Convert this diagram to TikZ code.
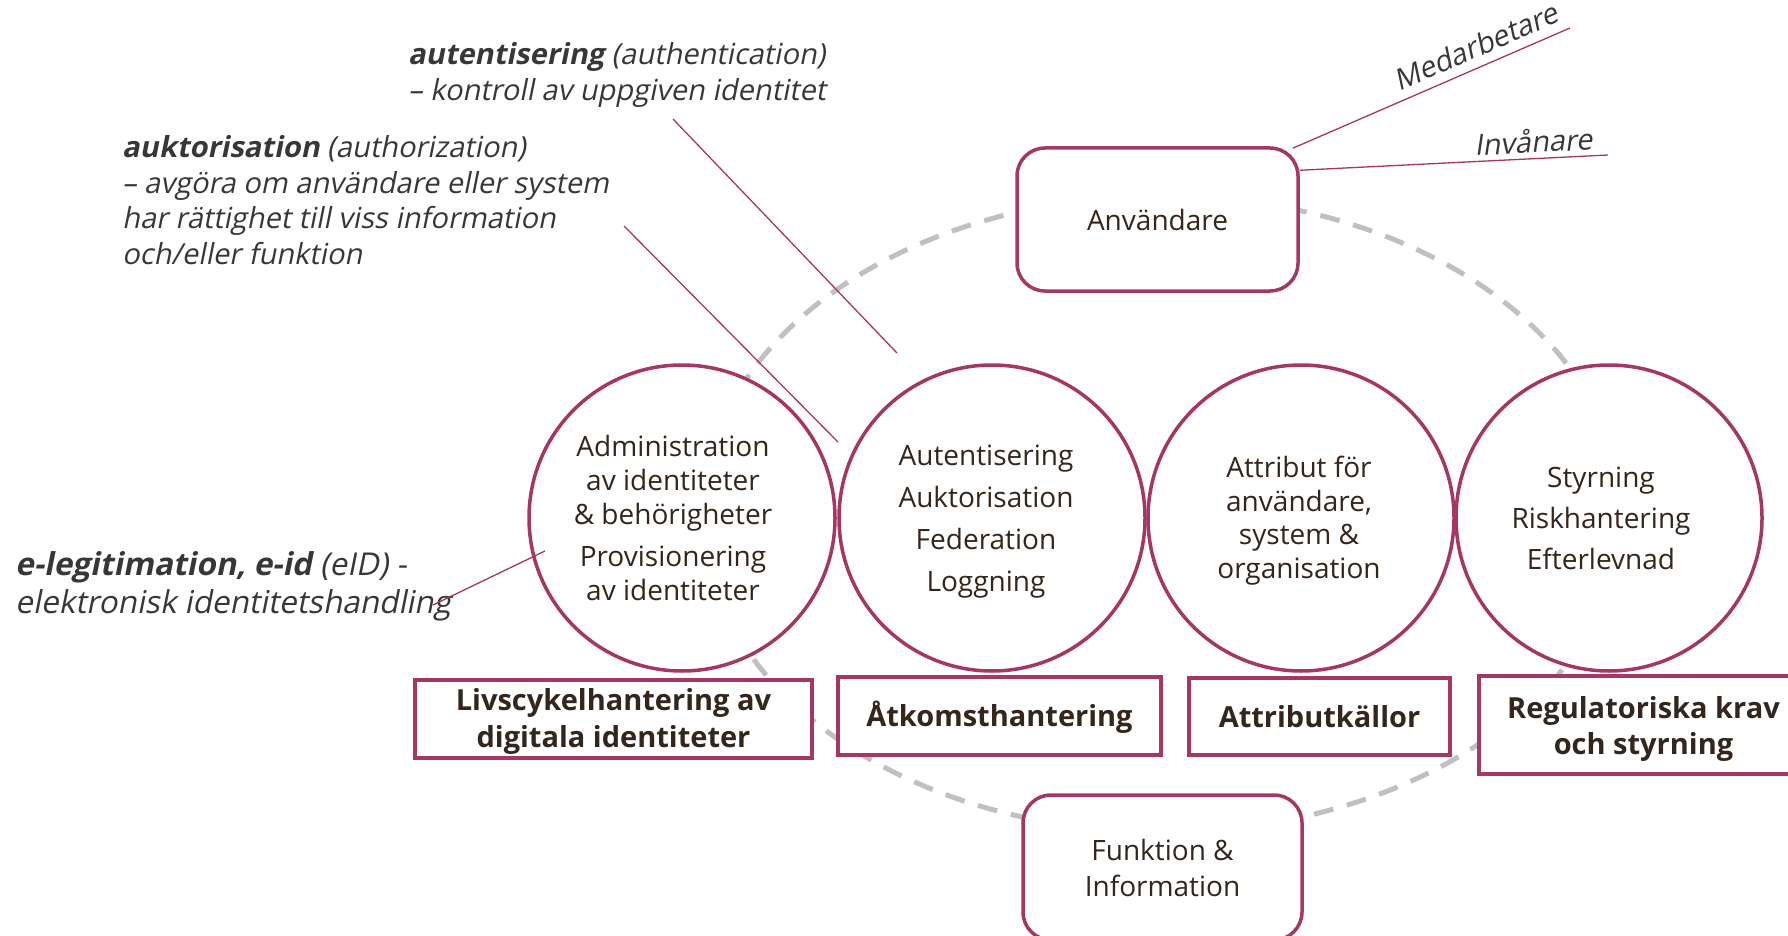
\documentclass[tikz,border=0pt]{standalone}
\usepackage{fontspec}
\setmainfont{Open Sans}
\newfontfamily\notefont{Open Sans}[FakeSlant=0.2]
\definecolor{plum}{RGB}{165,55,100}
\definecolor{ink}{RGB}{52,38,28}
\definecolor{note}{RGB}{55,55,55}
\definecolor{ring}{RGB}{192,192,192}

\begin{document}
\begin{tikzpicture}[x=1pt,y=-1pt,
  areacirc/.style={circle, draw=plum, line width=3.5pt, fill=white, minimum size=306pt, inner sep=0pt},
  areatext/.style={text=ink, align=center, inner sep=0pt},
  domainbox/.style={rectangle, draw=plum, line width=3.5pt, fill=white, inner sep=0pt},
  domaintext/.style={text=ink, align=center, inner sep=0pt, font=\fontsize{29}{37}\selectfont\bfseries},
  actorbox/.style={rectangle, rounded corners=28pt, draw=plum, line width=3.5pt, fill=white, text=ink, align=center, inner sep=0pt, font=\fontsize{28}{36}\selectfont},
  termtext/.style={text=note, align=left, anchor=west, inner sep=0pt},
  pointer/.style={draw=plum, line width=1.3pt},
  loopline/.style={draw=ring, line width=5pt, dash pattern=on 20pt off 14pt},
  usertag/.style={text=note, font=\notefont\fontsize{29}{34}\selectfont, sloped, above}
]
\useasboundingbox (0,0) rectangle (1788,936);
\clip (0,0) rectangle (1788,936);

% dashed loop behind everything
\draw[loopline] (1162,514) ellipse [x radius=459, y radius=318];

% the four capability circles
\node[areacirc] (lc) at (682,518) {};
\node[areacirc] (ac) at (992,518) {};
\node[areacirc] (at) at (1301,518) {};
\node[areacirc] (rg) at (1609,518) {};

\node[areatext, font=\fontsize{28}{34}\selectfont] (lct) at (673,518)
  {Administration\\av identiteter\\\& behörigheter\\[8pt]Provisionering\\av identiteter};
\node[areatext, font=\fontsize{28}{42}\selectfont] (act) at (986,521.5)
  {Autentisering\\Auktorisation\\Federation\\Loggning};
\node[areatext, font=\fontsize{28}{33.5}\selectfont] (att) at (1299,520.5)
  {Attribut för\\användare,\\system \&\\organisation};
\node[areatext, font=\fontsize{28}{41}\selectfont] (rgt) at (1601,518)
  {Styrning\\Riskhantering\\Efterlevnad};

% domain labels
\node[domainbox, minimum width=397pt, minimum height=78pt] (lcb) at (613.5,719) {};
\node[domainbox, minimum width=323pt, minimum height=78pt] (acb) at (999.5,716) {};
\node[domainbox, minimum width=261pt, minimum height=77pt] (atb) at (1319.5,716.5) {};
\node[domainbox, minimum width=329pt, minimum height=98pt] (rgb) at (1643.5,725) {};

\node[domaintext] (lcbt) at ([yshift=-2.5pt]lcb.center) {Livscykelhantering av\\digitala identiteter};
\node[domaintext] (acbt) at ([yshift=-1pt]acb.center) {Åtkomsthantering};
\node[domaintext] (atbt) at (atb.center) {Attributkällor};
\node[domaintext, font=\fontsize{29}{36}\selectfont\bfseries] (rgbt) at ([yshift=-3.5pt]rgb.center) {Regulatoriska krav\\och styrning};

% actors
\node[actorbox, minimum width=281pt, minimum height=143pt] (anv) at (1157.5,219.5) {Användare};
\node[actorbox, minimum width=279pt, minimum height=145pt] (fun) at (1162.5,867.5) {Funktion \&\\Information};

% user kinds
\coordinate (medEnd) at (1570,28);
\coordinate (invEnd) at (1608,155);
\draw[pointer] ([xshift=-7pt,yshift=-2pt]anv.north east) -- (medEnd)
  node[usertag, pos=0.69, inner sep=9pt] {Medarbetare};
\draw[pointer] ([yshift=-24pt]anv.north east) -- (invEnd)
  node[usertag, pos=0.76, inner sep=5pt] {Invånare};

% terms
\node[termtext, font=\notefont\fontsize{29}{36}\selectfont] (autn) at (408,74.5)
  {\textbf{autentisering} (authentication)\\– kontroll av uppgiven identitet};
\node[termtext, font=\notefont\fontsize{29}{35.5}\selectfont] (auktn) at (122,200)
  {\textbf{auktorisation} (authorization)\\– avgöra om användare eller system\\har rättighet till viss information\\och/eller funktion};
\node[termtext, font=\notefont\fontsize{31.5}{38}\selectfont] (eid) at (15,586)
  {\textbf{e-legitimation, e-id} (eID) -\\elektronisk identitetshandling};

\coordinate (autnA) at (673,119);
\coordinate (autnB) at (897,353);
\coordinate (auktA) at (624,226);
\coordinate (auktB) at (838,442);
\coordinate (eidA) at (545,551);
\coordinate (eidB) at (433,605);
\draw[pointer] (autnA) -- (autnB);
\draw[pointer] (auktA) -- (auktB);
\draw[pointer] (eidA) -- (eidB);
\end{tikzpicture}
\end{document}
